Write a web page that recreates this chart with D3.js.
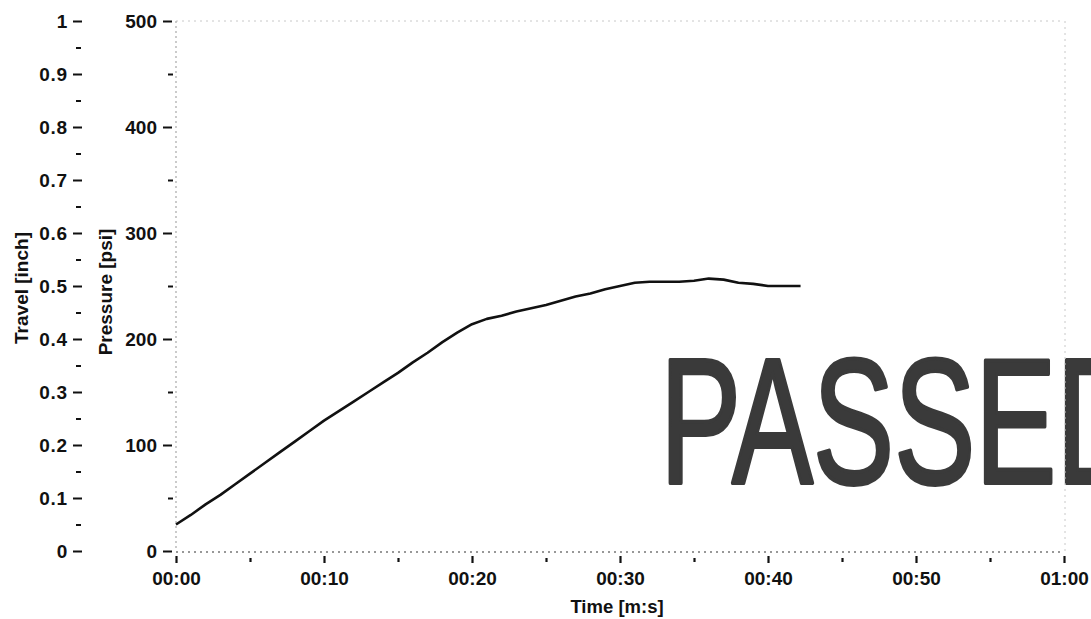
<!DOCTYPE html>
<html><head><meta charset="utf-8">
<script src="https://cdn.jsdelivr.net/npm/d3@7"></script>
<style>
body{margin:0;background:#fff;}
svg{display:block;}
text{font-family:"Liberation Sans",Arial,sans-serif;}
</style></head>
<body><svg id="c" width="1091" height="619"></svg>
<script>
// ---- data ----
const timeSec = [0,1,2,3,4,5,6,7,8,9,10,11,12,13,14,15,16,17,18,19,20,21,22,23,24,25,26,27,28,29,30,31,32,33,34,35,36,37,38,39,40,41,42,42.2];
const pressurePsi = [25,34,44,53,63,73,83,93,103,113,123,132,141,150,159,168,178,187,197,206,214,219,222,226,229,232,236,240,243,247,250,253,254,254,254,255,257,256,253,252,250,250,250,250];
const pressureTicks = [0,100,200,300,400,500];
const travelTicks = [0,0.1,0.2,0.3,0.4,0.5,0.6,0.7,0.8,0.9,1];
const timeTicks = [0,10,20,30,40,50,60];
const timeTickLabels = ["00:00","00:10","00:20","00:30","00:40","00:50","01:00"];
const stampText = "PASSED";

const svg = d3.select("#c");
const L = 176, R = 1064, T = 21, B = 551;
const x = d3.scaleLinear().domain([0,60]).range([L,R]);
const yP = d3.scaleLinear().domain([0,500]).range([B,T]);
const yT = d3.scaleLinear().domain([0,1]).range([B,T]);

// frame
svg.append("line").attr("x1",L).attr("x2",R).attr("y1",T).attr("y2",T)
  .attr("stroke","#c8c8c8").attr("stroke-width",1).attr("stroke-dasharray","2,4");
svg.append("line").attr("x1",L).attr("x2",L).attr("y1",T).attr("y2",B)
  .attr("stroke","#a8a8a8").attr("stroke-width",1.2).attr("stroke-dasharray","2,3");

// PASSED stamp
svg.append("text").attr("x",660).attr("y",483)
  .attr("font-family","Roboto, 'Liberation Sans Narrow', sans-serif")
  .attr("font-size",178).attr("fill","#3a3a3a")
  .attr("stroke","#3a3a3a").attr("stroke-width",4).attr("stroke-linejoin","round")
  .attr("textLength",484).attr("lengthAdjust","spacingAndGlyphs")
  .text(stampText);

svg.append("line").attr("x1",R+1).attr("x2",R+1).attr("y1",T).attr("y2",B)
  .attr("stroke","#c8c8c8").attr("stroke-width",1).attr("stroke-dasharray","2,4");

// bottom border
svg.append("line").attr("x1",L).attr("x2",R).attr("y1",B+1).attr("y2",B+1)
  .attr("stroke","#777").attr("stroke-width",1.5).attr("stroke-dasharray","2,4");

const tickFont = "'Liberation Sans',Arial,sans-serif";

// pressure axis
const pAxis = svg.append("g").attr("transform",`translate(${L-4},0)`);
pAxis.call(d3.axisLeft(yP).tickValues(pressureTicks).tickSize(9).tickPadding(6).tickFormat(d3.format("d")));
pAxis.select(".domain").remove();
pAxis.selectAll(".tick line").attr("stroke","#111").attr("stroke-width",2);
pAxis.selectAll(".tick text").attr("font-size",19).attr("font-weight","bold").attr("fill","#111")
  .attr("font-family",tickFont);
const pMinor = svg.append("g").attr("transform",`translate(${L-3},0)`);
pMinor.call(d3.axisLeft(yP).tickValues([50,150,250,350,450]).tickSize(5).tickFormat(""));
pMinor.select(".domain").remove();
pMinor.selectAll(".tick line").attr("stroke","#111").attr("stroke-width",2);

// travel axis
const tAxis = svg.append("g").attr("transform","translate(82,0)");
tAxis.call(d3.axisLeft(yT).tickValues(travelTicks).tickSize(9).tickPadding(5).tickFormat(d=>d3.format("~g")(d)));
tAxis.select(".domain").remove();
tAxis.selectAll(".tick line").attr("stroke","#111").attr("stroke-width",2);
tAxis.selectAll(".tick text").attr("font-size",19).attr("font-weight","bold").attr("fill","#111")
  .attr("font-family",tickFont).attr("letter-spacing","0.8");
const tMinor = svg.append("g").attr("transform","translate(81,0)");
tMinor.call(d3.axisLeft(yT).tickValues([0.05,0.15,0.25,0.35,0.45,0.55,0.65,0.75,0.85,0.95]).tickSize(5).tickFormat(""));
tMinor.select(".domain").remove();
tMinor.selectAll(".tick line").attr("stroke","#111").attr("stroke-width",2);

// time axis
const xAxis = svg.append("g").attr("transform",`translate(0,${B+5})`);
xAxis.call(d3.axisBottom(x).tickValues(timeTicks).tickSize(7).tickPadding(9).tickFormat((d,i)=>timeTickLabels[i]));
xAxis.select(".domain").remove();
xAxis.selectAll(".tick line").attr("stroke","#111").attr("stroke-width",2.2);
xAxis.selectAll(".tick text").attr("font-size",19).attr("font-weight","bold").attr("fill","#111")
  .attr("font-family",tickFont);
const xMinor = svg.append("g").attr("transform",`translate(0,${B+7})`);
xMinor.call(d3.axisBottom(x).tickValues([5,15,25,35,45,55]).tickSize(4).tickFormat(""));
xMinor.select(".domain").remove();
xMinor.selectAll(".tick line").attr("stroke","#111").attr("stroke-width",2.2);

// axis titles
svg.append("text").attr("transform","translate(28,288) rotate(-90)").attr("text-anchor","middle")
  .attr("font-size",19).attr("font-weight","bold").attr("fill","#111").text("Travel [inch]");
svg.append("text").attr("transform","translate(112,292) rotate(-90)").attr("text-anchor","middle")
  .attr("font-size",19).attr("font-weight","bold").attr("fill","#111").text("Pressure [psi]");
svg.append("text").attr("x",617).attr("y",613).attr("text-anchor","middle")
  .attr("font-size",18.5).attr("font-weight","bold").attr("fill","#111").text("Time [m:s]");

// pressure line
const line = d3.line().x((d,i)=>x(timeSec[i])).y(d=>yP(d));
svg.append("path").datum(pressurePsi).attr("d",line)
  .attr("fill","none").attr("stroke","#111").attr("stroke-width",2.6).attr("stroke-linejoin","round");
</script></body></html>
